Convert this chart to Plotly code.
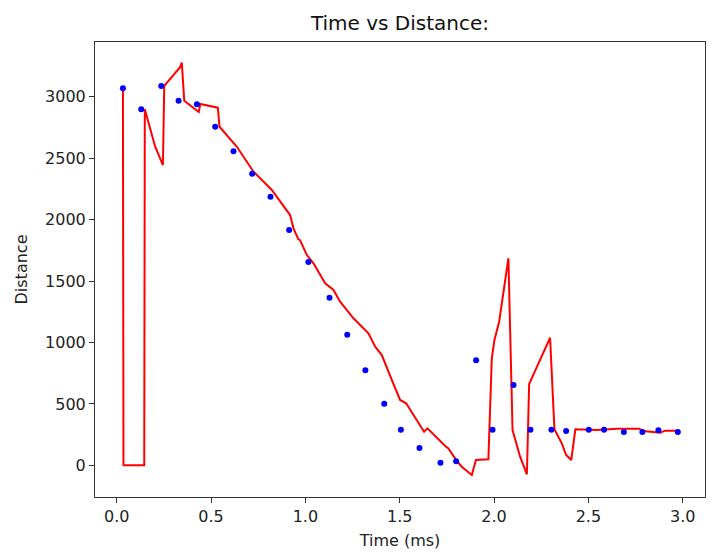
import plotly.graph_objects as go

# Measured points (blue dots)
meas_time = [0.033, 0.130, 0.236, 0.328, 0.425, 0.522, 0.619, 0.718, 0.815, 0.914,
             1.016, 1.128, 1.222, 1.318, 1.418, 1.506, 1.605, 1.716, 1.799, 1.905,
             1.992, 2.103, 2.193, 2.304, 2.382, 2.502, 2.583, 2.688, 2.786, 2.871, 2.974]
meas_dist = [3070, 2899, 3089, 2969, 2940, 2757, 2557, 2375, 2187, 1916,
             1656, 1365, 1064, 774, 502, 290, 141, 21, 33, 855,
             290, 654, 290, 290, 279, 290, 290, 271, 271, 285, 271]

# Red line trace
line_time = [0.033, 0.036, 0.146, 0.149, 0.204, 0.245, 0.252, 0.300, 0.335, 0.345,
             0.358, 0.435, 0.443, 0.536, 0.545, 0.637, 0.725, 0.822, 0.919, 0.937,
             0.963, 0.972, 1.008, 1.043, 1.105, 1.149, 1.184, 1.255, 1.334, 1.370,
             1.405, 1.458, 1.502, 1.534, 1.582, 1.629, 1.647, 1.697, 1.741, 1.758,
             1.803, 1.829, 1.882, 1.904, 1.970, 1.988, 2.002, 2.027, 2.076, 2.098,
             2.138, 2.174, 2.186, 2.227, 2.297, 2.320, 2.359, 2.382, 2.409, 2.431,
             2.545, 2.651, 2.769, 2.792, 2.880, 2.907, 2.983]
line_dist = [3070, 0, 0, 2900, 2594, 2445, 3089, 3180, 3240, 3279,
             2969, 2877, 2942, 2912, 2757, 2594, 2391, 2242, 2038, 1930,
             1840, 1833, 1712, 1645, 1482, 1428, 1332, 1197, 1075, 966,
             898, 695, 532, 505, 383, 274, 301, 220, 157, 138,
             35, -11, -79, 43, 49, 871, 1020, 1169, 1686, 287,
             70, -73, 662, 801, 1039, 293, 179, 84, 43, 293,
             287, 298, 298, 279, 265, 282, 282]

x_ticks = [0.0, 0.5, 1.0, 1.5, 2.0, 2.5, 3.0]
y_ticks = [0, 500, 1000, 1500, 2000, 2500, 3000]

fig = go.Figure()
fig.add_trace(go.Scatter(x=line_time, y=line_dist, mode="lines",
                         line=dict(color="red", width=2), showlegend=False))
fig.add_trace(go.Scatter(x=meas_time, y=meas_dist, mode="markers",
                         marker=dict(color="blue", size=6), showlegend=False))

font = "DejaVu Sans"
fig.update_layout(
    width=716, height=558,
    margin=dict(l=95, r=11, t=42, b=61, autoexpand=False),
    plot_bgcolor="white", paper_bgcolor="white",
    font=dict(family=font, size=16, color="#222"),
    title=dict(text="Time vs Distance:", x=(95 + 705) / 2 / 716, xanchor="center",
               y=1 - 23 / 558, yanchor="middle", font=dict(size=20, color="#111")),
    xaxis=dict(range=[-0.115, 3.118], tickvals=x_ticks,
               ticktext=[f"{v:.1f}" for v in x_ticks], automargin=False,
               ticks="outside", ticklen=5, tickcolor="#333", showgrid=False, zeroline=False,
               showline=True, mirror=True, linecolor="#333", linewidth=1,
               tickfont=dict(size=16),
               title=dict(text="Time (ms)", standoff=9, font=dict(size=16))),
    yaxis=dict(range=[-258, 3447], tickvals=y_ticks, automargin=False,
               ticks="outside", ticklen=5, tickcolor="#333", showgrid=False, zeroline=False,
               showline=True, mirror=True, linecolor="#333", linewidth=1,
               tickfont=dict(size=16),
               title=dict(text="Distance", standoff=13, font=dict(size=16))),
)
fig.write_html("out.html", config={"displayModeBar": False},
               post_script="document.body.style.margin='0px';")
